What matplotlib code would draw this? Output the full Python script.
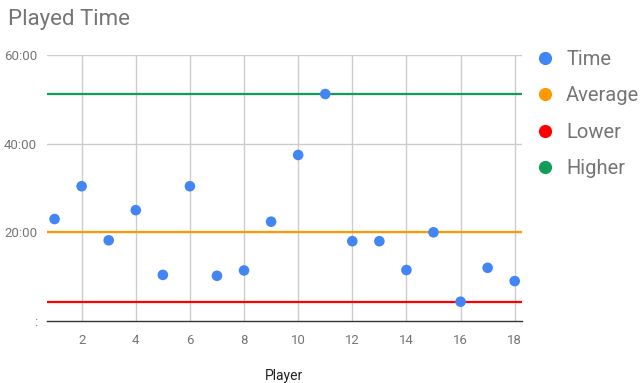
import matplotlib
matplotlib.use("Agg")
import matplotlib.pyplot as plt
from matplotlib.lines import Line2D
from matplotlib.ticker import FixedLocator
import numpy as np

plt.rcParams["font.family"] = ["Roboto", "DejaVu Sans"]

# Played time per player, in minutes
players = list(range(1, 19))
minutes = [23.0, 30.4, 18.2, 25.0, 10.4, 30.4, 10.2, 11.4, 22.4,
           37.45, 51.2, 18.0, 18.0, 11.5, 20.0, 4.35, 12.0, 9.0]

y_ticks = [0, 20, 40, 60]
y_tick_labels = [":", "20:00", "40:00", "60:00"]
x_ticks = [2, 4, 6, 8, 10, 12, 14, 16, 18]

series_names = ["Time", "Average", "Lower", "Higher"]
series_colors = ["#4285F4", "#FF9900", "#FF0000", "#0F9D58"]

average = float(np.mean(minutes))
lower = float(np.min(minutes))
higher = float(np.max(minutes))

W, H = 640, 383
fig = plt.figure(figsize=(W / 100, H / 100), dpi=100)
ax = fig.add_axes([47 / W, 1 - 321 / H, (522 - 47) / W, (321 - 55) / H])

ax.set_xlim(0.72, 18.27)
ax.set_ylim(0, 60)

grid_c = "#CCCCCC"
for x in x_ticks:
    ax.axvline(x, color=grid_c, lw=1.0, zorder=0)
for y in y_ticks[1:]:
    ax.axhline(y, color=grid_c, lw=1.0, zorder=0)

ax.axhline(average, color=series_colors[1], lw=1.6, zorder=2)
ax.axhline(lower, color=series_colors[2], lw=1.6, zorder=2)
ax.axhline(higher, color=series_colors[3], lw=1.6, zorder=2)
ax.axhline(0, color="#333333", lw=1.0, zorder=3, clip_on=False)

ax.scatter(players, minutes, s=58, color=series_colors[0], zorder=4,
           edgecolors="none", clip_on=False)

for s in ax.spines.values():
    s.set_visible(False)

ax.xaxis.set_major_locator(FixedLocator(x_ticks))
ax.set_yticks(y_ticks)
ax.set_yticklabels(y_tick_labels)
ax.tick_params(axis="both", length=0, labelsize=9.5, colors="#757575")
ax.tick_params(axis="x", pad=9)
ax.tick_params(axis="y", pad=7)

ax.set_xlabel("Player", fontsize=10, color="#222222", labelpad=16)

fig.text(8 / W, 1 - 19 / H, "Played Time", fontsize=16, color="#757575",
         va="center", ha="left")

handles = [Line2D([], [], marker="o", linestyle="none", markersize=9.5,
                  markerfacecolor=c, markeredgecolor="none") for c in series_colors]
leg = fig.legend(handles, series_names, loc="upper left",
                 bbox_to_anchor=(535 / W, 1 - 50 / H), frameon=False,
                 fontsize=14.5, labelspacing=0.86, handletextpad=0.55,
                 handlelength=1.0, borderaxespad=0, borderpad=0)
for t in leg.get_texts():
    t.set_color("#757575")

fig.savefig("out.png", dpi=100)
